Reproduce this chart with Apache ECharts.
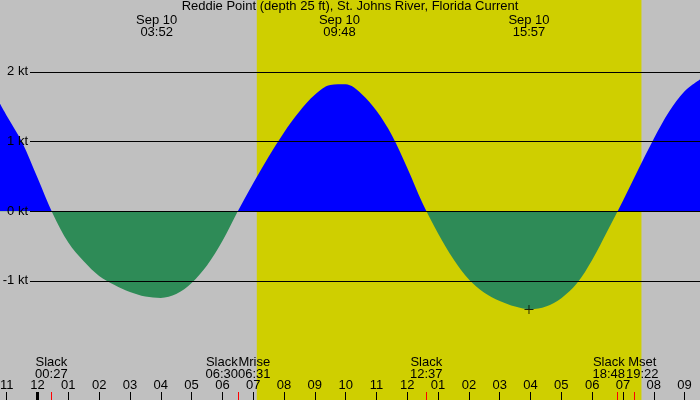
<!DOCTYPE html>
<html lang="en">
<head>
<meta charset="UTF-8">
<title>Reddie Point current</title>
<style>
    html, body { margin: 0; padding: 0; width: 100%; height: 100%; background: #c0c0c0; }
</style>
</head>
<body>
<div id="main" style="width: 700px;height:400px;"></div>
<script src="https://cdn.jsdelivr.net/npm/echarts@6/dist/echarts.min.js"></script>
<script type="text/javascript">
    // hours after midnight Sep 10 / current in knots
    var hours = [-1.217, -1, -0.5, 0, 0.5, 1, 1.5, 2, 2.5, 3, 3.5, 4, 4.5, 5, 5.5, 6, 6.5,
        7, 7.5, 8, 8.5, 9, 9.5, 10, 10.5, 11, 11.5, 12, 12.5,
        13, 13.5, 14, 14.5, 15, 15.5, 16, 16.5, 17, 17.5, 18, 18.5,
        19, 19.5, 20, 20.5, 21, 21.5];
    var knots = [1.54, 1.37, 0.99, 0.48, -0.04, -0.45, -0.72, -0.93, -1.06, -1.16, -1.225, -1.245, -1.19, -1.03, -0.78, -0.43, 0,
        0.40, 0.78, 1.13, 1.43, 1.67, 1.81, 1.82, 1.69, 1.44, 1.09, 0.62, 0.11,
        -0.32, -0.69, -0.98, -1.17, -1.29, -1.37, -1.41, -1.37, -1.25, -1.04, -0.70, -0.28,
        0.15, 0.60, 1.04, 1.43, 1.72, 1.89];
    var extremeTimes = ['03:52', '09:48', '15:57'];
    var eventNames = ['Slack', 'Slack', 'Mrise', 'Slack', 'Slack', 'Mset'];
    var eventTimes = ['00:27', '06:30', '06:31', '12:37', '18:48', '19:22'];
    var sunRise = '07:07';
    var sunSet = '19:36';
    var gridKnots = [2, 1, 0, -1];
    var hourTicks = [-1, 0, 1, 2, 3, 4, 5, 6, 7, 8, 9, 10, 11, 12, 13, 14, 15, 16, 17, 18, 19, 20, 21];
    var plusMark = [15.95, -1.41];

    var xMin = -1.217, xMax = 21.5;
    var yMin = -2.71, yMax = 3.03;
    var font = 'Liberation Sans';

    function toHours(s) {
        var p = s.split(':');
        return +p[0] + p[1] / 60;
    }
    function hourLabel(v) {
        var h = ((Math.round(v) % 24) + 24) % 24 % 12;
        if (h === 0) h = 12;
        return (h < 10 ? '0' : '') + h;
    }
    function nearestIndex(list, v) {
        var best = 0;
        for (var i = 1; i < list.length; i++) {
            if (Math.abs(list[i] - v) < Math.abs(list[best] - v)) best = i;
        }
        return best;
    }

    var curve = hours.map(function (h, i) { return [h, knots[i]]; });
    var extremeHours = extremeTimes.map(toHours);
    var eventHours = eventTimes.map(toHours);
    var slackHours = eventHours.filter(function (h, i) { return eventNames[i] === 'Slack'; });
    var moonHours = eventHours.filter(function (h, i) { return eventNames[i] !== 'Slack'; });
    // overlapping event labels get pushed apart
    var nudge = ['c', 'l16', 'r16', 'c', 'l8', 'r8'];
    var richStyles = {
        c: { fontSize: 13, lineHeight: 12, color: '#000' },
        l16: { fontSize: 13, lineHeight: 12, color: '#000', padding: [0, 32, 0, 0] },
        r16: { fontSize: 13, lineHeight: 12, color: '#000', padding: [0, 0, 0, 32] },
        l8: { fontSize: 13, lineHeight: 12, color: '#000', padding: [0, 16, 0, 0] },
        r8: { fontSize: 13, lineHeight: 12, color: '#000', padding: [0, 0, 0, 16] }
    };
    function eventLabel(v) {
        var i = nearestIndex(eventHours, v);
        var s = nudge[i];
        return '{' + s + '|' + eventNames[i] + '}\n{' + s + '|' + eventTimes[i] + '}';
    }
    function eventAxis(values, z) {
        return {
            type: 'value', gridIndex: 0, min: xMin, max: xMax, position: 'bottom', z: z,
            axisLine: { show: false, onZero: false }, splitLine: { show: false },
            axisTick: { inside: true, length: 8, customValues: values, lineStyle: { color: '#ff0000', width: 1 } },
            axisLabel: {
                inside: true, margin: 20, customValues: values, color: '#000', hideOverlap: false,
                fontFamily: font, fontSize: 13, lineHeight: 12,
                formatter: eventLabel, rich: richStyles
            }
        };
    }

    var myChart = echarts.init(document.getElementById('main'));
    var option = {
        backgroundColor: '#c0c0c0',
        animation: false,
        textStyle: { fontFamily: font },
        title: {
            text: 'Reddie Point (depth 25 ft), St. Johns River, Florida Current',
            left: 'center',
            top: 0,
            padding: 0,
            textStyle: { fontFamily: font, fontSize: 13, fontWeight: 'normal', color: '#000', lineHeight: 13 }
        },
        grid: [
            { left: 0, right: 0, top: 0, bottom: 0, outerBoundsMode: 'none' },
            { left: 30, right: 0, top: 0, bottom: 0, outerBoundsMode: 'none' }
        ],
        visualMap: {
            show: false,
            type: 'piecewise',
            seriesIndex: 2,
            dimension: 1,
            pieces: [
                { gte: -5, lt: 0, color: '#2e8b57' },
                { gte: 0, lte: 5, color: '#0000ff' }
            ]
        },
        xAxis: [
            {
                type: 'value', gridIndex: 0, min: xMin, max: xMax, position: 'bottom', z: 10,
                axisLine: { show: false, onZero: false }, splitLine: { show: false },
                axisTick: { inside: true, length: 8, customValues: hourTicks, lineStyle: { color: '#000', width: 1 } },
                axisLabel: {
                    inside: true, margin: 9, customValues: hourTicks, color: '#000', hideOverlap: false,
                    fontFamily: font, fontSize: 13, lineHeight: 12,
                    formatter: hourLabel
                }
            },
            { type: 'value', gridIndex: 1, min: 0, max: 1, show: false, axisLine: { onZero: false } },
            {
                type: 'value', gridIndex: 0, min: xMin, max: xMax, position: 'top', z: 10,
                axisLine: { show: false, onZero: false }, splitLine: { show: false }, axisTick: { show: false },
                axisLabel: {
                    inside: true, margin: 14, customValues: extremeHours, color: '#000',
                    fontFamily: font, fontSize: 13, lineHeight: 12,
                    formatter: function (v) { return 'Sep 10\n' + extremeTimes[nearestIndex(extremeHours, v)]; }
                }
            },
            eventAxis(slackHours, 11),
            eventAxis(moonHours, 11),
            {
                type: 'value', gridIndex: 0, min: xMin, max: xMax, position: 'bottom', z: 12,
                axisLine: { show: false, onZero: false }, splitLine: { show: false }, axisLabel: { show: false },
                axisTick: { inside: true, length: 8, customValues: [0], lineStyle: { color: '#000', width: 3 } }
            }
        ],
        yAxis: [
            { type: 'value', gridIndex: 0, min: yMin, max: yMax, show: false },
            { type: 'value', gridIndex: 1, min: yMin, max: yMax, show: false }
        ],
        series: [
            {
                // daylight
                type: 'line', xAxisIndex: 0, yAxisIndex: 0, data: [], z: 1, silent: true,
                markArea: {
                    silent: true,
                    itemStyle: { color: '#cfcf00', opacity: 1 },
                    data: [[{ xAxis: toHours(sunRise) }, { xAxis: toHours(sunSet) }]]
                }
            },
            {
                type: 'line', xAxisIndex: 1, yAxisIndex: 1, data: [], z: 2, silent: true,
                markLine: {
                    silent: true, symbol: 'none',
                    lineStyle: { color: '#000', width: 1, type: 'solid' },
                    label: {
                        position: 'start', distance: 2, color: '#000', fontFamily: font, fontSize: 13,
                        formatter: function (p) { return p.value + ' kt'; }
                    },
                    data: gridKnots.filter(function (k) { return k !== 0; }).map(function (k) { return { yAxis: k }; })
                }
            },
            {
                name: 'current',
                type: 'line', xAxisIndex: 0, yAxisIndex: 0, z: 3, silent: true,
                data: curve,
                smooth: 0.33,
                showSymbol: false,
                lineStyle: { width: 0, opacity: 0 },
                areaStyle: { opacity: 1 }
            },
            {
                type: 'line', xAxisIndex: 1, yAxisIndex: 1, data: [], z: 4, silent: true,
                markLine: {
                    silent: true, symbol: 'none',
                    lineStyle: { color: '#000', width: 1, type: 'solid' },
                    label: {
                        position: 'start', distance: 2, color: '#000', fontFamily: font, fontSize: 13,
                        formatter: function (p) { return p.value + ' kt'; }
                    },
                    data: gridKnots.filter(function (k) { return k === 0; }).map(function (k) { return { yAxis: k }; })
                }
            },
            {
                type: 'scatter', xAxisIndex: 0, yAxisIndex: 0, z: 5, silent: true,
                data: [plusMark],
                symbol: 'path://M4,0h1v4h4v1h-4v4h-1v-4h-4v-1h4z',
                symbolSize: 9,
                itemStyle: { color: '#000' }
            }
        ]
    };
    myChart.setOption(option);
    window.addEventListener("resize", function () {
        myChart.resize();
    });
</script>
</body>
</html>
